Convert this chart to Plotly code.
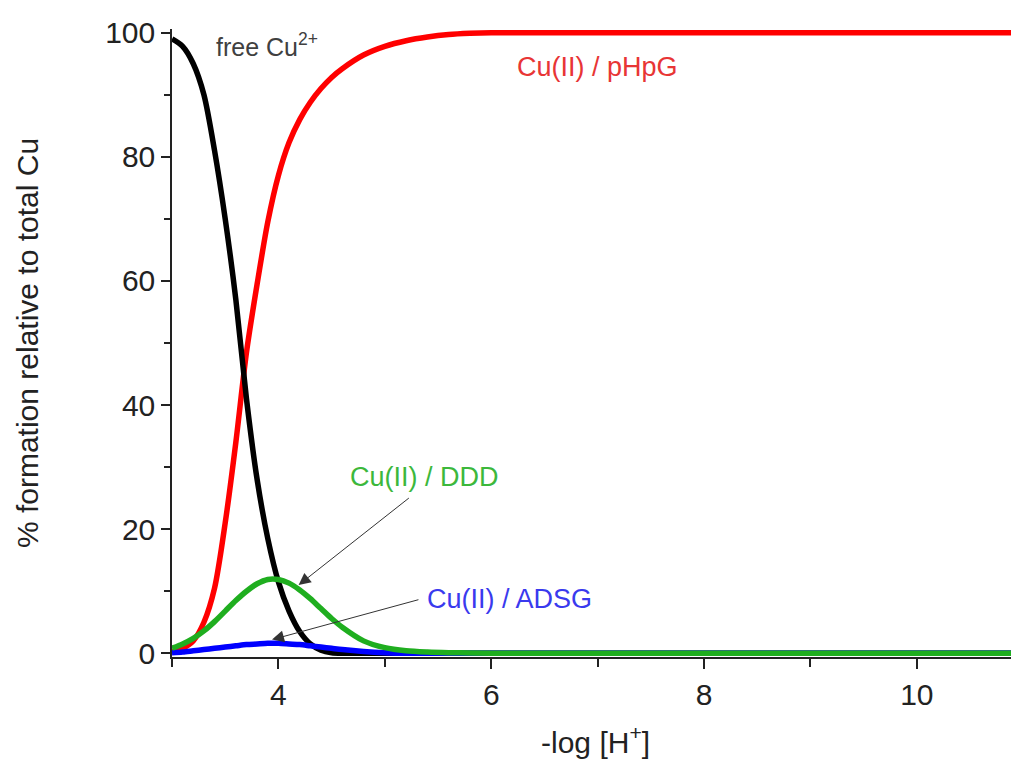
import plotly.graph_objects as go

ph = [3.0, 3.1, 3.2, 3.3, 3.4, 3.5, 3.6, 3.7, 3.8, 3.9, 4.0, 4.1, 4.2, 4.3, 4.4, 4.5,
      4.6, 4.8, 5.0, 5.2, 5.4, 5.6, 5.8, 6.0, 7.0, 8.0, 9.0, 10.0, 11.0]
free_cu = [99, 97.8, 95, 90, 81, 70, 57, 41, 28, 18.5, 11.5, 6.8, 3.5, 1.5, 0.5, 0.1,
           0, 0, 0, 0, 0, 0, 0, 0, 0, 0, 0, 0, 0]
cu_phpg = [0.2, 0.8, 2, 5, 10.5, 21, 34, 48.5, 59.5, 69.5, 77, 82.3, 86, 88.8, 91, 92.8,
           94.2, 96.4, 97.8, 98.7, 99.3, 99.7, 99.9, 100, 100, 100, 100, 100, 100]
cu_ddd = [0.8, 1.5, 2.4, 3.6, 5.1, 6.8, 8.5, 10.0, 11.2, 11.9, 11.9, 11.3, 10.2, 8.8, 7.2, 5.6,
          4.2, 2.0, 0.9, 0.4, 0.2, 0.1, 0.05, 0, 0, 0, 0, 0, 0]
cu_adsg = [0.1, 0.2, 0.4, 0.6, 0.8, 1.0, 1.2, 1.4, 1.5, 1.6, 1.6, 1.5, 1.4, 1.2, 1.0, 0.8,
           0.6, 0.3, 0.1, 0, 0, 0, 0, 0, 0, 0, 0, 0, 0]

FONT = "Liberation Sans, Arial, sans-serif"
AXC = "#222222"

fig = go.Figure()
series = [
    (cu_phpg, "#ff0000", "Cu(II) / pHpG"),
    (free_cu, "#000000", "free Cu2+"),
    (cu_adsg, "#0000ff", "Cu(II) / ADSG"),
    (cu_ddd, "#1fae1f", "Cu(II) / DDD"),
]
for ys, col, name in series:
    fig.add_trace(go.Scatter(x=ph, y=ys, mode="lines", name=name,
                             line=dict(color=col, width=5.5, shape="spline", smoothing=0.8)))

# text labels
fig.add_annotation(x=3.39, y=98, text="free Cu<sup>2+</sup>", showarrow=False,
                   xanchor="left", yanchor="middle", font=dict(size=25, color="#404040", family=FONT))
fig.add_annotation(x=6.22, y=94.4, text="Cu(II) / pHpG", showarrow=False,
                   xanchor="left", yanchor="middle", font=dict(size=27, color="#e83535", family=FONT))
fig.add_annotation(x=4.655, y=28.4, text="Cu(II) / DDD", showarrow=False,
                   xanchor="left", yanchor="middle", font=dict(size=27, color="#3cb83c", family=FONT))
fig.add_annotation(x=5.38, y=8.8, text="Cu(II) / ADSG", showarrow=False,
                   xanchor="left", yanchor="middle", font=dict(size=27, color="#3a3aee", family=FONT))
# arrows
fig.add_annotation(x=4.19, y=11.0, ax=5.24, ay=25.2, axref="x", ayref="y", text="",
                   showarrow=True, arrowhead=2, arrowsize=2.4, arrowwidth=1, arrowcolor="#333333")
fig.add_annotation(x=3.94, y=2.2, ax=5.33, ay=8.7, axref="x", ayref="y", text="",
                   showarrow=True, arrowhead=2, arrowsize=2.4, arrowwidth=1, arrowcolor="#333333")

# page body has an 8px margin; figure is sized/offset to compensate
fig.update_layout(
    width=1011, height=766,
    margin=dict(l=164, r=0, t=21, b=117),
    paper_bgcolor="white", plot_bgcolor="white",
    showlegend=False,
    font=dict(family=FONT, color=AXC),
)
fig.update_xaxes(
    range=[3, 10.96], showgrid=False, zeroline=False,
    showline=True, linecolor=AXC, linewidth=1.5,
    ticks="outside", ticklen=10, tickwidth=1.5, tickcolor=AXC,
    tick0=0, dtick=2, tickfont=dict(size=30, family=FONT, color=AXC),
    minor=dict(dtick=1, tick0=0, ticks="outside", ticklen=8, tickwidth=1.5, tickcolor=AXC),
    title=dict(text="-log [H<sup>+</sup>]", font=dict(size=30, family=FONT, color=AXC), standoff=22),
)
fig.update_yaxes(
    range=[-0.6, 100.6], showgrid=False, zeroline=False,
    showline=True, linecolor=AXC, linewidth=1.5,
    ticks="outside", ticklen=9, tickwidth=1.5, tickcolor=AXC,
    tickvals=[0, 20, 40, 60, 80, 100], tickfont=dict(size=30, family=FONT, color=AXC),
    minor=dict(tickvals=[10, 30, 50, 70, 90], ticks="outside", ticklen=6, tickwidth=1.5, tickcolor=AXC),
    title=dict(text="% formation relative to total Cu", font=dict(size=30, family=FONT, color=AXC), standoff=58),
)

fig.write_html("out.html")
